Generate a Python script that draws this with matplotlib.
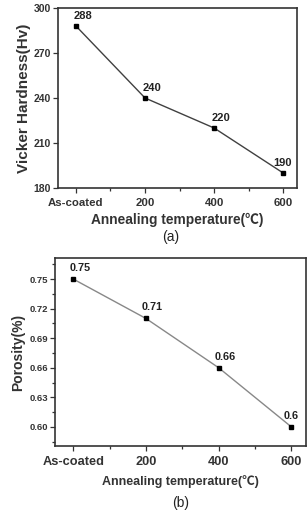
import matplotlib
matplotlib.use('Agg')
import matplotlib.pyplot as plt
from matplotlib.ticker import MultipleLocator

plt.rcParams['font.family'] = ['Liberation Sans', 'DejaVu Sans']

categories = ['As-coated', '200', '400', '600']
hardness = [288, 240, 220, 190]
porosity = [0.75, 0.71, 0.66, 0.60]
porosity_labels = ['0.75', '0.71', '0.66', '0.6']

W, H = 308, 513
fig = plt.figure(figsize=(W / 100, H / 100), dpi=100)


def px_axes(l, t, r, b):
    return fig.add_axes([l / W, 1 - b / H, (r - l) / W, (b - t) / H])


def style_axes(ax):
    for s in ax.spines.values():
        s.set_linewidth(1.2)
        s.set_color('#333333')
    ax.xaxis.set_minor_locator(MultipleLocator(0.5))
    ax.tick_params(which='both', direction='out', color='#333333', width=0.9)
    ax.tick_params(which='major', length=3.5)
    ax.tick_params(which='minor', length=2)
    ax.tick_params(axis='y', which='major', pad=1.5)


# (a) Vicker hardness
x = list(range(len(categories)))
ax1 = px_axes(58, 8, 297, 188)
ax1.plot(x, hardness, color='#404040', lw=1.0, marker='s', ms=3.5,
         mfc='black', mec='black')
ax1.set_xlim(-0.26, 3.2)
ax1.set_ylim(180, 300)
ax1.set_yticks([180, 210, 240, 270, 300])
ax1.set_xticks(x)
ax1.set_xticklabels(categories, fontsize=8.2, fontweight='bold', color='#333333')
for lab in ax1.get_yticklabels():
    lab.set_fontsize(7.5)
    lab.set_fontweight('bold')
    lab.set_color('#333333')
style_axes(ax1)
ax1.set_ylabel('Vicker Hardness(Hv)', fontsize=11, fontweight='bold',
               color='#333333', labelpad=2)
ax1.set_xlabel('Annealing temperature(℃)', fontsize=9.9, fontweight='bold',
               color='#333333', labelpad=4,
               fontfamily=['Liberation Sans', 'Noto Sans CJK SC'])
for i, v in enumerate(hardness):
    last = i == len(hardness) - 1
    ax1.annotate(str(v), (i, v), xytext=(-1 if last else -2, 5),
                 textcoords='offset pixels', ha='center' if last else 'left',
                 va='bottom', fontsize=8, fontweight='bold', color='#222222')
fig.text(171 / W, 1 - 237 / H, '(a)', ha='center', va='center', fontsize=10,
         color='#222222')

# (b) Porosity
ax2 = px_axes(55, 258, 306, 446)
ax2.plot(x, porosity, color='#888888', lw=1.0, marker='s', ms=3.5,
         mfc='black', mec='black')
ax2.set_xlim(-0.25, 3.2)
ax2.set_ylim(0.5807, 0.7713)
yt = [0.60, 0.63, 0.66, 0.69, 0.72, 0.75]
ax2.set_yticks(yt)
ax2.yaxis.set_minor_locator(MultipleLocator(0.015))
ax2.set_yticklabels(['%.2f' % t for t in yt],
                    fontsize=6.8, fontweight='bold', color='#333333')
ax2.set_xticks(x)
ax2.set_xticklabels(categories, fontsize=9.2, fontweight='bold', color='#333333')
style_axes(ax2)
ax2.set_ylabel('Porosity(%)', fontsize=10, fontweight='bold',
               color='#333333', labelpad=3)
ax2.set_xlabel('Annealing temperature(℃)', fontsize=9, fontweight='bold',
               color='#333333', labelpad=5,
               fontfamily=['Liberation Sans', 'Noto Sans CJK SC'])
for i, (v, t) in enumerate(zip(porosity, porosity_labels)):
    last = i == len(porosity) - 1
    ax2.annotate(t, (i, v), xytext=(0 if last else -4, 6),
                 textcoords='offset pixels', ha='center' if last else 'left',
                 va='bottom', fontsize=7.8, fontweight='bold', color='#222222')
fig.text(181 / W, 1 - 503 / H, '(b)', ha='center', va='center', fontsize=10,
         color='#222222')

fig.savefig('out.png', dpi=100)
